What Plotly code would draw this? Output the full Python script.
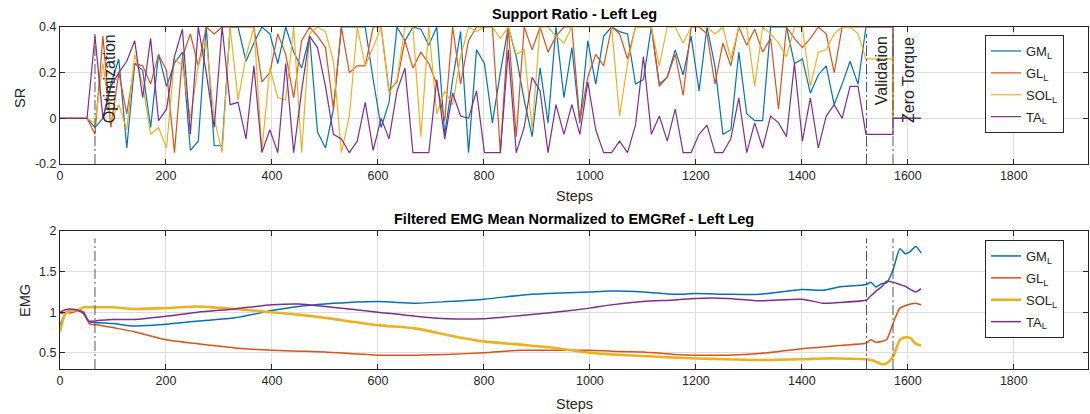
import plotly.graph_objects as go

# ---------------- data ----------------
SR_STEPS = [0, 51, 66, 81, 96, 111, 126, 141, 156, 171, 186, 201, 216, 231, 246, 261, 276,
            291, 306, 321, 336, 351, 366, 381, 396, 411, 426, 441, 456, 471, 486, 501, 516,
            531, 546, 561, 576, 591, 606, 621, 636, 651, 666, 681, 696, 711, 726, 741, 756,
            771, 786, 801, 816, 831, 846, 861, 876, 891, 906, 921, 936, 951, 966, 981, 996,
            1011, 1026, 1041, 1056, 1071, 1086, 1101, 1116, 1131, 1146, 1161, 1176, 1191,
            1206, 1221, 1236, 1251, 1266, 1281, 1296, 1311, 1326, 1341, 1356, 1371, 1386,
            1401, 1416, 1431, 1446, 1461, 1476, 1491, 1506, 1521]

SR_GM = [0,
         0, -0.04, 0.0, 0.15, 0.26, -0.13, 0.24, 0.21, -0.04, 0.28,
         0.14, 0.24, 0.29, -0.14, -0.10, 0.40, -0.12, -0.12, 0.40, 0.40,
         0.25, 0.33, 0.40, 0.37, 0.24, 0.40, 0.29, 0.22, 0.36, -0.06,
         -0.13, 0.04, 0.40, 0.40, 0.40, 0.40, 0.17, -0.04, 0.07, 0.40,
         0.34, 0.40, 0.39, 0.32, 0.40, -0.07, 0.17, 0.38, -0.15, 0.30,
         0.24, -0.02, 0.20, 0.40, 0.27, 0.08, -0.08, 0.22, -0.02, 0.40,
         0.09, 0.31, -0.02, 0.34, 0.15, 0.36, 0.40, 0.38, 0.37, 0.15,
         0.17, 0.40, 0.15, 0.18, 0.30, 0.19, 0.36, 0.12, 0.40, 0.23,
         -0.07, -0.05, 0.29, 0.02, -0.01, -0.01, 0.40, 0.40, 0.40, 0.24,
         0.26, 0.11, 0.19, 0.23, 0.06, 0.15, 0.25, 0.15, 0.40]
SR_GL = [0,
         0, -0.07, 0.36, -0.04, 0.20, 0.02, 0.24, 0.23, 0.15, 0.28,
         0.21, -0.15, 0.27, 0.37, 0.23, 0.40, 0.37, 0.40, 0.40, 0.40,
         0.40, 0.40, 0.16, 0.20, 0.37, 0.28, 0.09, 0.34, 0.40, 0.36,
         0.31, 0.04, 0.40, 0.20, 0.23, 0.23, 0.40, 0.40, 0.12, 0.16,
         0.34, 0.22, 0.29, 0.24, 0.15, -0.01, 0.40, 0.15, 0.34, 0.40,
         0.40, 0.40, -0.15, 0.40, -0.08, 0.40, 0.30, 0.40, 0.29, 0.36,
         0.40, 0.40, -0.01, 0.18, 0.28, 0.23, 0.40, 0.37, 0.26, 0.40,
         0.40, 0.40, 0.14, 0.18, 0.28, 0.10, 0.40, 0.40, 0.37, 0.15,
         0.33, 0.23, 0.40, 0.32, 0.39, 0.29, 0.35, 0.04, 0.40, 0.35,
         0.31, 0.35, 0.40, 0.37, 0.20, 0.40, 0.40, 0.40, 0.40]
SR_SOL = [0,
          0, -0.02, 0.24, -0.01, 0.06, -0.05, 0.28, 0.15, -0.07, -0.04,
          -0.13, 0.26, 0.23, 0.00, 0.23, 0.34, 0.00, -0.15, 0.40, 0.08,
          0.27, 0.40, -0.14, 0.22, 0.09, 0.08, 0.40, -0.15, 0.37, 0.40,
          0.38, 0.25, -0.15, 0.01, 0.40, 0.23, 0.31, 0.40, 0.11, 0.17,
          0.40, 0.40, -0.08, 0.40, 0.02, 0.12, 0.06, 0.27, 0.40, 0.38,
          0.40, 0.40, 0.35, 0.40, 0.28, 0.30, -0.05, 0.40, 0.40, 0.36,
          0.33, 0.40, 0.40, 0.40, 0.40, 0.40, 0.40, 0.01, 0.24, 0.40,
          0.40, 0.40, 0.23, 0.40, 0.40, 0.33, 0.40, 0.40, 0.40, 0.37,
          0.40, 0.26, 0.40, 0.40, 0.14, 0.40, 0.37, 0.33, 0.27, 0.40,
          0.40, 0.14, 0.29, 0.30, 0.37, 0.40, 0.40, 0.37, 0.26]
SR_TA = [0,
         0, 0.36, 0.00, 0.14, 0.20, 0.25, 0.34, 0.09, 0.35, -0.01,
         0.04, 0.27, 0.39, -0.07, 0.40, 0.20, -0.04, 0.40, 0.06, 0.07,
         -0.09, 0.23, -0.15, -0.05, -0.15, 0.24, -0.15, 0.12, 0.36, 0.31,
         0.14, -0.07, -0.09, -0.15, -0.10, 0.07, -0.14, 0.00, -0.09, 0.12,
         0.22, -0.15, -0.15, -0.15, 0.17, -0.09, 0.11, 0.01, 0.00, 0.12,
         -0.15, -0.15, -0.15, 0.30, -0.15, -0.04, 0.18, 0.12, -0.15, 0.06,
         -0.07, 0.06, -0.07, 0.16, -0.05, -0.15, -0.15, -0.10, -0.15, -0.03,
         0.27, -0.07, 0.01, -0.10, 0.04, -0.15, -0.15, -0.07, -0.03, -0.15,
         -0.15, -0.09, 0.09, -0.15, -0.02, -0.13, 0.01, -0.02, -0.08, 0.24,
         -0.10, 0.09, -0.13, 0.01, 0.06, 0.00, 0.14, 0.14, -0.07]

# phase boundaries (steps)
OPT_START = 66
VAL_START = 1522
VAL_END = 1572
ZT_END = 1625
# SR held during validation, then zero during zero-torque
SR_VAL_HOLD = [0.40, 0.40, 0.26, -0.07]
SR_ZT = [0, 0, 0, 0]

EMG_STEPS = [0, 10, 20, 35, 45, 55, 75, 100, 140, 200, 260, 330, 400, 450, 500, 600, 670,
             730, 800, 870, 920, 1000, 1040, 1100, 1160, 1200, 1260, 1320, 1400, 1440, 1470,
             1522, 1530, 1540, 1550, 1560, 1572, 1585, 1595, 1605, 1615, 1625]
EMG_GM = [0.84, 0.98, 1.03, 1.02, 0.98, 0.88, 0.87, 0.86, 0.83, 0.85, 0.89, 0.93, 1.02, 1.07,
          1.10, 1.13, 1.11, 1.13, 1.16, 1.21, 1.23, 1.25, 1.26, 1.25, 1.22, 1.23, 1.22, 1.22,
          1.28, 1.27, 1.31, 1.34, 1.37, 1.31, 1.35, 1.36, 1.52, 1.78, 1.72, 1.75, 1.81, 1.73]
EMG_GL = [0.98, 1.00, 0.99, 1.02, 1.00, 0.86, 0.84, 0.81, 0.76, 0.66, 0.61, 0.56, 0.53, 0.52,
          0.51, 0.47, 0.47, 0.48, 0.50, 0.53, 0.53, 0.53, 0.52, 0.51, 0.48, 0.47, 0.47, 0.49,
          0.55, 0.57, 0.59, 0.62, 0.66, 0.63, 0.64, 0.66, 0.86, 1.05, 1.08, 1.10, 1.11, 1.09]
EMG_SOL = [0.76, 0.98, 1.02, 1.03, 1.06, 1.06, 1.06, 1.06, 1.04, 1.05, 1.07, 1.04, 1.00, 0.97,
           0.93, 0.84, 0.80, 0.72, 0.64, 0.60, 0.57, 0.50, 0.48, 0.46, 0.44, 0.43, 0.42, 0.41,
           0.42, 0.43, 0.43, 0.42, 0.41, 0.39, 0.36, 0.37, 0.45, 0.66, 0.69, 0.68, 0.61, 0.59]
EMG_TA = [1.00, 1.03, 1.04, 1.02, 0.98, 0.89, 0.90, 0.91, 0.91, 0.95, 1.00, 1.04, 1.09, 1.10,
          1.07, 1.00, 0.95, 0.92, 0.92, 0.96, 0.99, 1.05, 1.09, 1.13, 1.15, 1.17, 1.17, 1.14,
          1.16, 1.11, 1.12, 1.15, 1.20, 1.26, 1.31, 1.38, 1.37, 1.34, 1.32, 1.28, 1.25, 1.29]

NAMES = ["GM<sub>L</sub>", "GL<sub>L</sub>", "SOL<sub>L</sub>", "TA<sub>L</sub>"]
COLORS = ["#0072BD", "#D95319", "#EDB120", "#7E2F8E"]
X_TICKS = [0, 200, 400, 600, 800, 1000, 1200, 1400, 1600, 1800]
SR_TICKS = [-0.2, 0, 0.2, 0.4]
SR_TICKTEXT = ["-0.2", "0", "0.2", "0.4"]
EMG_TICKS = [0.5, 1, 1.5, 2]
EMG_TICKTEXT = ["0.5", "1", "1.5", "2"]

# ---------------- figure ----------------
W, H = 1090, 414
FONT = "Liberation Sans, Arial, Helvetica, sans-serif"
TXT = "#262626"

fig = go.Figure()

sr_series = [SR_GM, SR_GL, SR_SOL, SR_TA]
for k, vals in enumerate(sr_series):
    fig.add_trace(go.Scatter(
        x=SR_STEPS + [VAL_END, VAL_END, ZT_END],
        y=vals + [SR_VAL_HOLD[k], SR_ZT[k], SR_ZT[k]],
        mode="lines", line=dict(color=COLORS[k], width=1.2),
        name=NAMES[k], legend="legend", legendgroup="a%d" % k,
        xaxis="x", yaxis="y", hoverinfo="skip"))

emg_series = [EMG_GM, EMG_GL, EMG_SOL, EMG_TA]
for k, vals in enumerate(emg_series):
    fig.add_trace(go.Scatter(
        x=EMG_STEPS, y=vals, mode="lines",
        line=dict(color=COLORS[k], width=2.6 if k == 2 else 1.5, shape="spline", smoothing=0.6),
        name=NAMES[k], legend="legend2", legendgroup="b%d" % k,
        xaxis="x2", yaxis="y2", hoverinfo="skip"))

x_dom = [60 / W, 1088 / W]
top_dom = [1 - 164 / H, 1 - 27 / H]
bot_dom = [1 - 369 / H, 1 - 231 / H]

axis_common = dict(
    showline=True, linecolor=TXT, linewidth=1, mirror="ticks",
    ticks="inside", ticklen=5, tickcolor=TXT, tickwidth=1,
    showgrid=True, gridcolor="#dedede", gridwidth=1, zeroline=False,
    automargin=False,
    tickfont=dict(family=FONT, size=12.5, color=TXT),
)

leg_common = dict(xanchor="left", yanchor="top",
                  bgcolor="white", bordercolor=TXT, borderwidth=1,
                  font=dict(family=FONT, size=13, color=TXT),
                  traceorder="grouped", tracegroupgap=2, itemwidth=30)

fig.update_layout(
    template="none",
    width=W, height=H, autosize=False,
    margin=dict(l=0, r=0, t=0, b=0, pad=0),
    paper_bgcolor="white", plot_bgcolor="white",
    font=dict(family=FONT, color=TXT),
    xaxis=dict(domain=x_dom, anchor="y", range=[0, 1940], tickvals=X_TICKS, **axis_common),
    yaxis=dict(domain=top_dom, anchor="x", range=[-0.2, 0.4], tickvals=SR_TICKS,
               ticktext=SR_TICKTEXT, **axis_common),
    xaxis2=dict(domain=x_dom, anchor="y2", range=[0, 1940], tickvals=X_TICKS, **axis_common),
    yaxis2=dict(domain=bot_dom, anchor="x2", range=[0.3, 2], tickvals=EMG_TICKS,
                ticktext=EMG_TICKTEXT, **axis_common),
    legend=dict(x=985 / W, y=1 - 35 / H, **leg_common),
    legend2=dict(x=985 / W, y=1 - 240 / H, **leg_common),
    showlegend=True,
)

# phase boundary lines
dash = "10px,3px,2px,3px"
for xv in [OPT_START, VAL_START, VAL_END]:
    fig.add_shape(type="line", xref="x", yref="y", x0=xv, x1=xv, y0=-0.2, y1=0.37,
                  line=dict(color="#555555", width=1, dash=dash), layer="above")
    fig.add_shape(type="line", xref="x2", yref="y2", x0=xv, x1=xv, y0=0.3, y1=1.91,
                  line=dict(color="#555555", width=1, dash=dash), layer="above")

# phase labels
labels = [("Optimization", 94, 0.175), ("Validation", 1551, 0.21), ("Zero Torque", 1600, 0.167)]
for txt, xv, yv in labels:
    fig.add_annotation(text=txt, x=xv, y=yv, xref="x", yref="y", showarrow=False,
                       xanchor="center", yanchor="middle",
                       textangle=-90, font=dict(family=FONT, size=16, color=TXT))


def ann(text, xp, yp, size=14.5, angle=0, color=TXT):
    fig.add_annotation(text=text, x=xp / W, y=1 - yp / H, xref="paper", yref="paper",
                       xanchor="center", yanchor="middle", showarrow=False,
                       textangle=angle, font=dict(family=FONT, size=size, color=color))


# titles
ann("<b>Support Ratio - Left Leg</b>", 574, 14, color="#000000")
ann("<b>Filtered EMG Mean Normalized to EMGRef - Left Leg</b>", 574, 219, color="#000000")
# axis titles
ann("Steps", 574, 196)
ann("Steps", 574, 404)
ann("SR", 20, 98, angle=-90)
ann("EMG", 25, 301, angle=-90)

fig.write_html("out.html")
